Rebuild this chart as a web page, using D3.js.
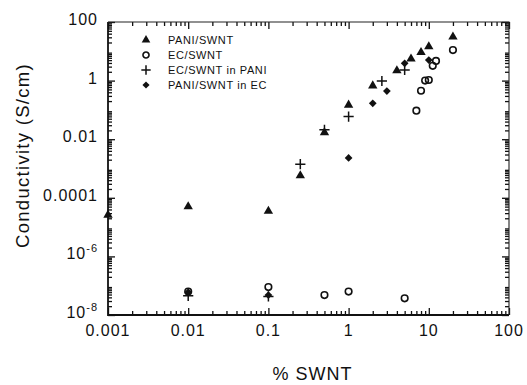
<!DOCTYPE html>
<html>
<head>
<meta charset="utf-8">
<script src="https://cdn.jsdelivr.net/npm/d3@7"></script>
<style>
  body { margin: 0; background: #fff; }
  text { font-family: "Liberation Sans", Arial, Helvetica, sans-serif; fill: #111; }
</style>
</head>
<body>
<div id="chart"></div>
<script>
// % SWNT vs conductivity (S/cm)
const paniSwntX = [0.001, 0.01, 0.1, 0.25, 0.5, 1, 2, 4, 6, 8, 10, 20];
const paniSwntY = [2.6e-5, 5.0e-5, 3.5e-5, 5.7e-4, 0.017, 0.147, 0.67, 2.2, 5.5, 9.2, 14.4, 31];

const ecSwntX = [0.01, 0.1, 0.5, 1, 5, 7, 8, 9, 10, 11.2, 12.3, 20];
const ecSwntY = [6.3e-8, 9.0e-8, 4.8e-8, 6.3e-8, 3.7e-8, 0.094, 0.45, 1.0, 1.05, 3.2, 4.7, 11];

const ecInPaniX = [0.01, 0.1, 0.25, 0.5, 1, 2.6, 5];
const ecInPaniY = [4.5e-8, 4.3e-8, 1.4e-3, 0.021, 0.059, 0.97, 2.3];

const paniInEcX = [0.01, 0.1, 1, 2, 3, 5, 10];
const paniInEcY = [6.0e-8, 4.8e-8, 2.3e-3, 0.168, 0.44, 3.9, 5.0];

const xTickValues = [0.001, 0.01, 0.1, 1, 10, 100];
const xTickLabels = ["0.001", "0.01", "0.1", "1", "10", "100"];
const yTickValues = [100, 1, 0.01, 1e-4, 1e-6, 1e-8];
const yTickLabels = [["100"], ["1"], ["0.01"], ["0.0001"], ["10", "-6"], ["10", "-8"]];

const seriesNames = ["PANI/SWNT", "EC/SWNT", "EC/SWNT in PANI", "PANI/SWNT in EC"];

const width = 527, height = 385;
const margins = {top: 22, right: 18, bottom: 70, left: 108};

const svg = d3.select("#chart")
  .append("svg")
  .attr("width", width)
  .attr("height", height);

const x = d3.scaleLog()
  .domain([0.001, 100])
  .range([margins.left, width - margins.right]);

const y = d3.scaleLog()
  .domain([1e-8, 100])
  .range([height - margins.bottom, margins.top]);

// minor ticks: 2..9 inside every decade
function minorTicks(lo, hi) {
  const out = [];
  for (let p = Math.log10(lo); p < Math.log10(hi); p++) {
    for (let m = 2; m <= 9; m++) out.push(m * Math.pow(10, p));
  }
  return out;
}
const xMinor = minorTicks(0.001, 100);
const yMinor = minorTicks(1e-8, 100);

// inward ticks on all four sides, majors longer than minors
function tickAxis(axisFn, scale, values, size, translate) {
  svg.append("g")
    .attr("class", "ticks")
    .attr("transform", translate)
    .call(axisFn(scale).tickValues(values).tickSize(size).tickFormat(""))
    .call(g => g.select(".domain").remove())
    .call(g => g.selectAll("line").attr("stroke", "#111").attr("stroke-width", 1.3));
}
const x0 = margins.left, x1 = width - margins.right;
const y0 = height - margins.bottom, y1 = margins.top;

tickAxis(d3.axisBottom, x, xTickValues, -7, `translate(0,${y0})`);
tickAxis(d3.axisBottom, x, xMinor, -4, `translate(0,${y0})`);
tickAxis(d3.axisTop, x, xTickValues, -7, `translate(0,${y1})`);
tickAxis(d3.axisTop, x, xMinor, -4, `translate(0,${y1})`);
tickAxis(d3.axisLeft, y, yTickValues, -7, `translate(${x0},0)`);
tickAxis(d3.axisLeft, y, yMinor, -4, `translate(${x0},0)`);
tickAxis(d3.axisRight, y, yTickValues, -7, `translate(${x1},0)`);
tickAxis(d3.axisRight, y, yMinor, -4, `translate(${x1},0)`);

// frame
svg.append("path")
  .attr("d", `M${x0},${y1}V${y0}H${x1}`)
  .attr("fill", "none")
  .attr("stroke", "#111")
  .attr("stroke-width", 1.8);
svg.append("path")
  .attr("d", `M${x0},${y1}H${x1}V${y0}`)
  .attr("fill", "none")
  .attr("stroke", "#222")
  .attr("stroke-width", 1.1);

// tick labels
svg.append("g")
  .selectAll("text")
  .data(xTickValues)
  .join("text")
    .attr("x", d => x(d))
    .attr("y", y0 + 21)
    .attr("text-anchor", "middle")
    .style("font-size", "16px")
    .style("letter-spacing", "1px")
    .text((d, i) => xTickLabels[i]);

const yLab = svg.append("g")
  .selectAll("text")
  .data(yTickValues)
  .join("text")
    .attr("x", x0 - 10)
    .attr("y", d => y(d) + 3)
    .attr("text-anchor", "end")
    .style("font-size", "16px")
    .style("letter-spacing", "1px");
yLab.each(function(d, i) {
  const t = d3.select(this);
  const parts = yTickLabels[i];
  t.append("tspan").text(parts[0]);
  if (parts.length > 1) {
    t.append("tspan")
      .attr("dy", -7)
      .style("font-size", "11px")
      .text(parts[1]);
  }
});

// axis titles
svg.append("text")
  .attr("transform", `translate(${(x0 + x1) / 2 + 4},${height - 5})`)
  .attr("text-anchor", "middle")
  .style("font-size", "18px")
  .style("letter-spacing", "1px")
  .text("% SWNT");

svg.append("text")
  .attr("transform", `translate(29,${(y0 + y1) / 2 - 13}) rotate(-90)`)
  .attr("text-anchor", "middle")
  .style("font-size", "18.5px")
  .style("letter-spacing", "1.3px")
  .text("Conductivity (S/cm)");

// markers
const markers = [
  {type: d3.symbolTriangle, size: 38, fill: "#111", stroke: "none", sw: 0},
  {type: d3.symbolCircle, size: 34, fill: "none", stroke: "#111", sw: 1.6},
  {type: d3.symbolPlus, size: 36, fill: "none", stroke: "#111", sw: 1.5},
  {type: d3.symbolDiamond2, size: 38, fill: "#111", stroke: "none", sw: 0}
];
const series = [
  {xs: paniSwntX, ys: paniSwntY},
  {xs: ecSwntX, ys: ecSwntY},
  {xs: ecInPaniX, ys: ecInPaniY},
  {xs: paniInEcX, ys: paniInEcY}
];

series.forEach((s, k) => {
  const m = markers[k];
  svg.append("g")
    .selectAll("path")
    .data(s.xs.map((v, i) => [v, s.ys[i]]))
    .join("path")
      .attr("transform", d => `translate(${x(d[0])},${y(d[1])})`)
      .attr("d", d3.symbol(m.type, m.size))
      .attr("fill", m.fill)
      .attr("stroke", m.stroke)
      .attr("stroke-width", m.sw);
});

// legend
const legend = svg.append("g").attr("transform", "translate(146,40)");
seriesNames.forEach((name, k) => {
  const m = markers[k];
  const row = legend.append("g").attr("transform", `translate(0,${k * 15})`);
  row.append("path")
    .attr("d", d3.symbol(m.type, m.size * 0.85))
    .attr("fill", m.fill)
    .attr("stroke", m.stroke)
    .attr("stroke-width", m.sw);
  row.append("text")
    .attr("x", 22)
    .attr("y", 4)
    .style("font-size", "11px")
    .style("letter-spacing", "0.6px")
    .text(name);
});
</script>
</body>
</html>
